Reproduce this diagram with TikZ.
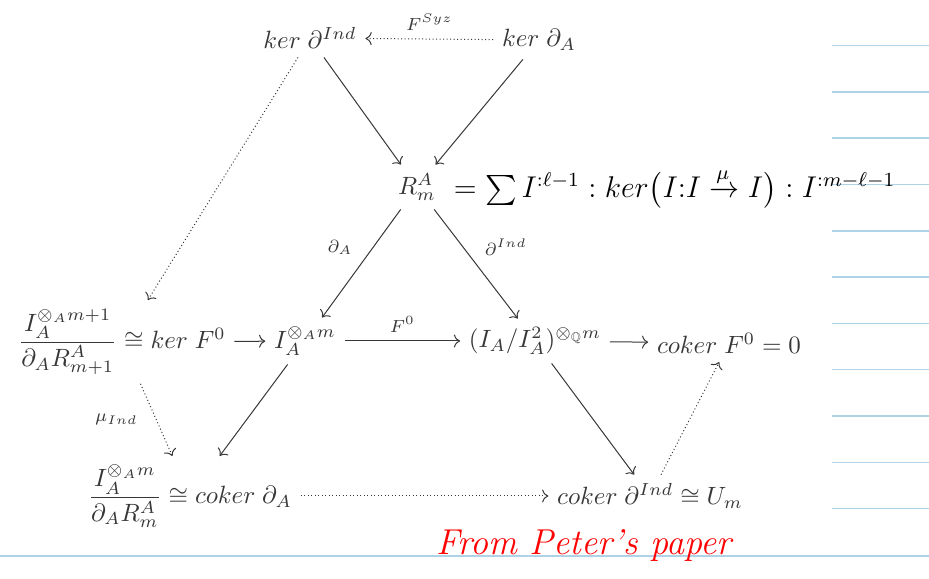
\documentclass[tikz,border=0pt]{standalone}
\usepackage{amsmath,amssymb}
\usepackage{tikz}
\usetikzlibrary{arrows.meta,calc}
\definecolor{ruled}{RGB}{174,210,230}
\definecolor{ink}{RGB}{55,55,55}
\tikzset{
  map/.style={->, ink},
  dmap/.style={->, ink, densely dotted},
  lbl/.style={font=\scriptsize, text=ink}
}

\begin{document}
\begin{tikzpicture}[x=0.4pt, y=-0.4pt, every node/.style={text=ink}]
  \useasboundingbox (0,0) rectangle (929,579);
  % Ruled paper
  \foreach \k in {0,...,10}
    \draw[ruled, line width=0.6pt] (832,{45.6+46.3*\k}) -- (929,{45.6+46.3*\k});
  \draw[ruled, line width=0.6pt] (0,556) -- (929,556);
  % Top row
  \node (kerInd) at (310,38) {$ker\;\partial^{Ind}$};
  \node (kerA) at (539,40) {$ker\;\partial_A$};
  % Middle
  \node (R) at (417,187) {$R^A_m$};
  \node (kerF) at (122,342) {$\dfrac{I_A^{\otimes_A m+1}}{\partial_A R^A_{m+1}} \cong ker\;F^0$};
  \node (I) at (305,341) {$I_A^{\otimes_A m}$};
  \node (Q) at (535,341) {$(I_A/I_A^2)^{\otimes_{\mathbb{Q}} m}$};
  \node (cokF) at (729,343) {$coker\;F^0 = 0$};
  % Bottom row
  \node (cokA) at (190,496) {$\dfrac{I_A^{\otimes_A m}}{\partial_A R^A_m} \cong coker\;\partial_A$};
  \node (cokInd) at (650,496) {$coker\;\partial^{Ind} \cong U_m$};
  % Arrows
  \draw[dmap] (kerA) -- (kerInd) node[lbl, midway, above] {$F^{Syz}$};
  \draw[map] (kerInd) -- (R);
  \draw[map] (kerA) -- (R);
  \draw[map] (R) -- (I) node[lbl, midway, above left] {$\partial_A$};
  \draw[map] (R) -- (Q) node[lbl, midway, above right] {$\partial^{Ind}$};
  \draw[dmap] (kerInd) -- (kerF);
  \draw[map] (kerF) -- (I);
  \draw[map] (I) -- (Q) node[lbl, midway, above] {$F^0$};
  \draw[map] (Q) -- (cokF);
  \draw[dmap] (kerF) -- (cokA) node[lbl, midway, left=4pt] {$\mu_{Ind}$};
  \draw[map] (I) -- (cokA);
  \draw[map] (Q) -- (cokInd);
  \draw[dmap] (cokInd) -- (cokF);
  \draw[dmap] (cokA) -- (cokInd);
  % Handwritten notes
  \node[text=black, anchor=west, font=\large] (note) at (445,188)
    {$= \sum I^{:\ell-1} : ker\bigl(I{:}I \xrightarrow{\mu} I\bigr) : I^{:m-\ell-1}$};
  \node[text=red, anchor=west, font=\Large\itshape] (src) at (428,546) {From Peter's paper};
\end{tikzpicture}
\end{document}
